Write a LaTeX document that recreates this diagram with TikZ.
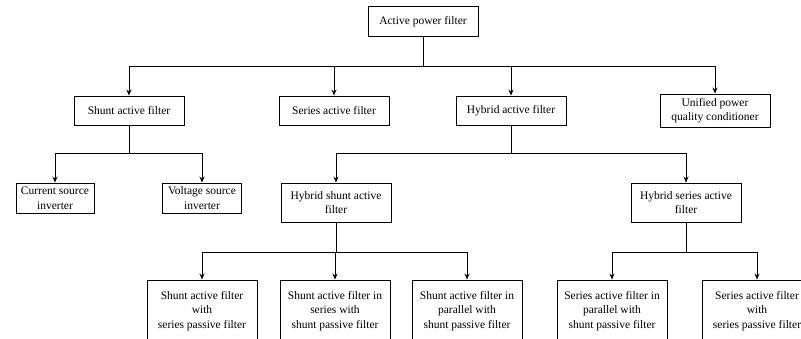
\documentclass[tikz,border=0pt]{standalone}
\usepackage{fontspec}
\setmainfont{Liberation Serif}
\usetikzlibrary{arrows.meta}
\begin{document}
\begin{tikzpicture}[x=1pt,y=-1pt,
  box/.style={draw,line width=0.9pt,fill=white,align=center,inner sep=1pt,
    font=\fontsize{11.5}{14.5}\selectfont,minimum width=110pt},
  arr/.style={line width=0.9pt,-{Stealth[length=6pt,width=5pt]}},
  ln/.style={line width=0.9pt}]
\clip (0,0) rectangle (801,339);
\fill[white] (0,0) rectangle (801,339);
% nodes
\node[box,minimum height=30pt] (apf) at (423,21.5) {Active power filter};
\node[box,minimum height=29pt] (saf) at (129,110.5) {Shunt active filter};
\node[box,minimum height=29pt] (ser) at (334,110.5) {Series active filter};
\node[box,minimum height=29pt] (haf) at (511,110.5) {Hybrid active filter};
\node[box,minimum height=33pt] (upqc) at (715,110.5) {Unified power\\quality conditioner};
\node[box,minimum width=78pt,minimum height=30pt] (csi) at (55,198) {Current source\\inverter};
\node[box,minimum width=79pt,minimum height=30pt] (vsi) at (202,198) {Voltage source\\inverter};
\node[box,minimum height=39pt] (hsaf) at (336,202.5) {Hybrid shunt active\\filter};
\node[box,minimum height=39pt] (hser) at (686,202.5) {Hybrid series active\\filter};
\node[box,minimum height=62pt] (b1) at (202,311) {Shunt active filter\\with\\series passive filter};
\node[box,minimum height=62pt] (b2) at (335,311) {Shunt active filter in\\series with\\shunt passive filter};
\node[box,minimum height=62pt] (b3) at (467,311) {Shunt active filter in\\parallel with\\shunt passive filter};
\node[box,minimum height=62pt] (b4) at (612,311) {Series active filter in\\parallel with\\shunt passive filter};
\node[box,minimum height=62pt] (b5) at (757,311) {Series active filter\\with\\series passive filter};
% bus levels
\coordinate (y1) at (0,66);
\coordinate (y2) at (0,153);
\coordinate (y3) at (0,252);
% connectors
\foreach \c in {saf,ser,haf,upqc}
  \draw[arr] (apf.south) -- (apf.south |- y1) -| (\c.north);
\foreach \c in {csi,vsi}
  \draw[arr] (saf.south) -- (saf.south |- y2) -| (\c.north);
\foreach \c in {hsaf,hser}
  \draw[arr] (haf.south) -- (haf.south |- y2) -| (\c.north);
\foreach \c in {b1,b2,b3}
  \draw[arr] (hsaf.south) -- (hsaf.south |- y3) -| (\c.north);
\foreach \c in {b4,b5}
  \draw[arr] (hser.south) -- (hser.south |- y3) -| (\c.north);
\end{tikzpicture}
\end{document}
